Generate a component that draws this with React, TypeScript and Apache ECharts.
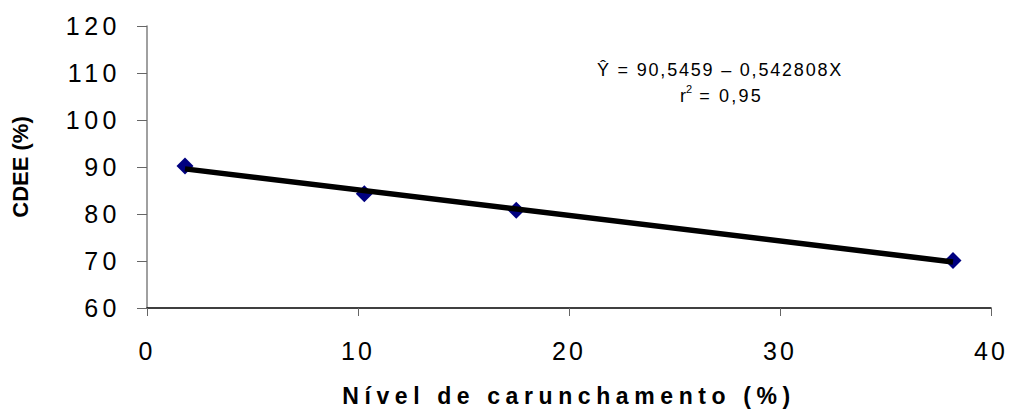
import React, { useEffect, useRef } from "react";
import * as echarts from "echarts";

const xTicks = [0, 10, 20, 30, 40];
const yTicks = [60, 70, 80, 90, 100, 110, 120];
const observedX = [1.8, 10.3, 17.5, 38.2];
const observedY = [90.2, 84.3, 80.8, 70.1];
const trendX = [1.8, 38.2];
const trendY = [89.6, 69.8];
const xTitle = "Nível de carunchamento (%)";
const yTitle = "CDEE (%)";
const equationText = "Ŷ = 90,5459 – 0,542808X";
const r2Label = "r";
const r2Sup = "2";
const r2Value = " = 0,95";

function applySpacing(root: HTMLElement) {
  const xs = new Set(xTicks.map(String));
  const ys = new Set(yTicks.map(String));
  root.querySelectorAll("text").forEach((t) => {
    const s = (t.textContent || "").trim();
    let ls = "";
    if (ys.has(s)) ls = "4.5px";
    else if (xs.has(s)) ls = "3px";
    else if (s === xTitle) ls = "5.6px";
    else if (s === equationText) ls = "1.8px";
    else if (s === r2Value.trim()) ls = "2.2px";
    if (ls) (t as SVGTextElement).style.letterSpacing = ls;
  });
}

export default function App() {
  const ref = useRef<HTMLDivElement>(null);
  useEffect(() => {
    if (!ref.current) return;
    const el = ref.current;
    const chart = echarts.init(el, undefined, { renderer: "svg" });
    const font = "'Liberation Sans', Arial, sans-serif";
    chart.on("finished", () => applySpacing(el));
    chart.setOption({
      animation: false,
      backgroundColor: "#ffffff",
      grid: {
        left: 147,
        right: 19,
        top: 26,
        bottom: 102,
        containLabel: false,
        outerBoundsMode: "none",
      },
      xAxis: {
        type: "value",
        min: xTicks[0],
        max: xTicks[xTicks.length - 1],
        interval: 10,
        name: xTitle,
        nameLocation: "middle",
        nameGap: 76,
        nameTextStyle: { fontFamily: font, fontWeight: "bold", fontSize: 23, color: "#000" },
        axisLine: { show: true, onZero: false, lineStyle: { color: "#000", width: 1.5 } },
        axisTick: { show: true, length: 8, lineStyle: { color: "#666", width: 1 } },
        axisLabel: { fontFamily: font, fontSize: 25, color: "#000", margin: 30 },
        splitLine: { show: false },
      },
      yAxis: {
        type: "value",
        min: yTicks[0],
        max: yTicks[yTicks.length - 1],
        interval: 10,
        name: yTitle,
        nameLocation: "middle",
        nameGap: 116,
        nameRotate: 90,
        nameTextStyle: { fontFamily: font, fontWeight: "bold", fontSize: 22, color: "#000" },
        axisLine: { show: true, onZero: false, lineStyle: { color: "#808080", width: 1.5 } },
        axisTick: { show: true, length: 10, lineStyle: { color: "#666", width: 1 } },
        axisLabel: { fontFamily: font, fontSize: 25, color: "#000", margin: 26 },
        splitLine: { show: false },
      },
      series: [
        {
          type: "line",
          data: trendX.map((x, i) => [x, trendY[i]]),
          showSymbol: false,
          symbol: "none",
          lineStyle: { color: "#000", width: 5.5 },
          z: 3,
          silent: true,
        },
        {
          type: "scatter",
          data: observedX.map((x, i) => [x, observedY[i]]),
          symbol: "diamond",
          symbolSize: [17, 17],
          itemStyle: { color: "#000080", opacity: 1 },
          z: 2,
        },
      ],
      graphic: [
        {
          type: "text",
          left: 597,
          top: 61,
          style: { text: equationText, font: `18px ${font}`, fill: "#000" },
        },
        {
          type: "text",
          left: 680,
          top: 87,
          style: { text: r2Label, font: `18px ${font}`, fill: "#000" },
        },
        {
          type: "text",
          left: 686,
          top: 83,
          style: { text: r2Sup, font: `11px ${font}`, fill: "#000" },
        },
        {
          type: "text",
          left: 692,
          top: 87,
          style: { text: r2Value, font: `18px ${font}`, fill: "#000" },
        },
      ],
    });
    applySpacing(el);
    return () => chart.dispose();
  }, []);
  return (
    <div
      ref={ref}
      style={{ position: "fixed", left: 0, top: 0, width: 1010, height: 410 }}
    />
  );
}
